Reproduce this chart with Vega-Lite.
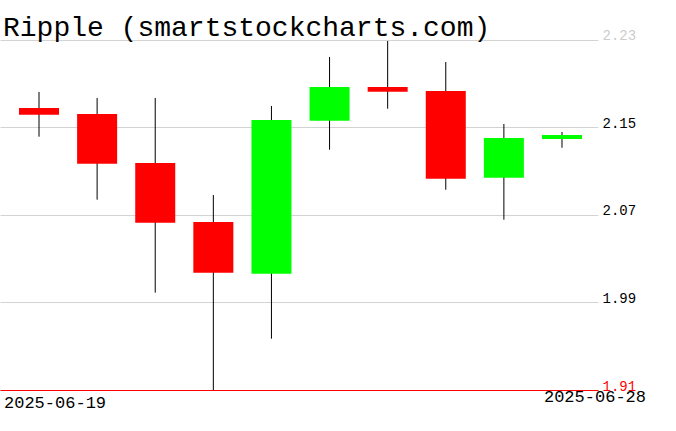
{
  "$schema": "https://vega.github.io/schema/vega-lite/v6.json",
  "autosize": "none",
  "width": 598,
  "height": 390,
  "padding": {"left": 0, "top": 0, "right": 78, "bottom": 41},
  "background": "#ffffff",
  "title": {
    "text": "Ripple (smartstockcharts.com)",
    "anchor": "start",
    "frame": "group",
    "orient": "top",
    "font": "Liberation Mono",
    "fontSize": 28,
    "fontWeight": "normal",
    "color": "#000000",
    "baseline": "alphabetic",
    "offset": -37,
    "dx": 3,
    "dy": 27
  },
  "data": {
    "values": [
      {"date": "2025-06-19", "open": 2.1678, "close": 2.1617, "high": 2.1825, "low": 2.1416},
      {"date": "2025-06-20", "open": 2.1623, "close": 2.1169, "high": 2.1770, "low": 2.0840},
      {"date": "2025-06-21", "open": 2.1175, "close": 2.0630, "high": 2.1770, "low": 1.9990},
      {"date": "2025-06-22", "open": 2.0636, "close": 2.0172, "high": 2.0883, "low": 1.9100},
      {"date": "2025-06-23", "open": 2.0163, "close": 2.1569, "high": 2.1697, "low": 1.9569},
      {"date": "2025-06-24", "open": 2.1562, "close": 2.1870, "high": 2.2145, "low": 2.1297},
      {"date": "2025-06-25", "open": 2.1870, "close": 2.1827, "high": 2.2291, "low": 2.1672},
      {"date": "2025-06-26", "open": 2.1834, "close": 2.1032, "high": 2.2099, "low": 2.0931},
      {"date": "2025-06-27", "open": 2.1041, "close": 2.1404, "high": 2.1532, "low": 2.0657},
      {"date": "2025-06-28", "open": 2.1395, "close": 2.1431, "high": 2.1459, "low": 2.1315}
    ]
  },
  "encoding": {
    "x": {
      "field": "date",
      "type": "ordinal",
      "sort": null,
      "scale": {"paddingInner": 0.3115, "paddingOuter": 0.3012, "align": 0.543},
      "axis": {
        "title": null,
        "domain": false,
        "ticks": false,
        "grid": false,
        "labelAngle": 0,
        "labelOverlap": false,
        "labelBound": false,
        "labelFlush": false,
        "labelFont": "Liberation Mono",
        "labelFontSize": 17,
        "labelColor": "#000000",
        "labelBaseline": "alphabetic",
        "labelExpr": "datum.value == '2025-06-19' || datum.value == '2025-06-28' ? datum.label : ''",
        "labelAlign": {"condition": {"test": "datum.value == '2025-06-19'", "value": "left"}, "value": "right"},
        "labelOffset": {"condition": {"test": "datum.value == '2025-06-19'", "value": -35}, "value": 84},
        "labelPadding": {"condition": {"test": "datum.value == '2025-06-19'", "value": 17}, "value": 11}
      }
    }
  },
  "layer": [
    {
      "mark": {"type": "rule", "color": "#000000", "strokeWidth": 1},
      "encoding": {
        "y": {
          "field": "low",
          "type": "quantitative",
          "scale": {"domain": [1.91, 2.26657], "nice": false, "zero": false},
          "axis": {
            "orient": "right",
            "title": null,
            "values": [1.91, 1.99, 2.07, 2.15, 2.23],
            "format": ".2f",
            "domain": false,
            "ticks": false,
            "grid": true,
            "gridWidth": 1,
            "gridColor": {"condition": {"test": "datum.value < 1.92", "value": "#ff0000"}, "value": "#d3d3d3"},
            "labelPadding": 4,
            "labelAlign": "left",
            "labelBaseline": "alphabetic",
            "labelFont": "Liberation Mono",
            "labelFontSize": 14,
            "labelColor": {"condition": [{"test": "datum.value < 1.92", "value": "#ff0000"}, {"test": "datum.value > 2.2", "value": "#cccccc"}], "value": "#000000"}
          }
        },
        "y2": {"field": "high"}
      }
    },
    {
      "mark": {"type": "bar"},
      "encoding": {
        "y": {
          "field": "open",
          "type": "quantitative",
          "scale": {"domain": [1.91, 2.26657], "nice": false, "zero": false},
          "axis": {
            "orient": "right",
            "title": null,
            "values": [1.91, 1.99, 2.07, 2.15, 2.23],
            "format": ".2f",
            "domain": false,
            "ticks": false,
            "grid": true,
            "gridWidth": 1,
            "gridColor": {"condition": {"test": "datum.value < 1.92", "value": "#ff0000"}, "value": "#d3d3d3"},
            "labelPadding": 4,
            "labelAlign": "left",
            "labelBaseline": "alphabetic",
            "labelFont": "Liberation Mono",
            "labelFontSize": 14,
            "labelColor": {"condition": [{"test": "datum.value < 1.92", "value": "#ff0000"}, {"test": "datum.value > 2.2", "value": "#cccccc"}], "value": "#000000"}
          }
        },
        "y2": {"field": "close"},
        "color": {"condition": {"test": "datum.open < datum.close", "value": "#00ff00"}, "value": "#ff0000"}
      }
    }
  ],
  "config": {
    "view": {"stroke": null}
  }
}
